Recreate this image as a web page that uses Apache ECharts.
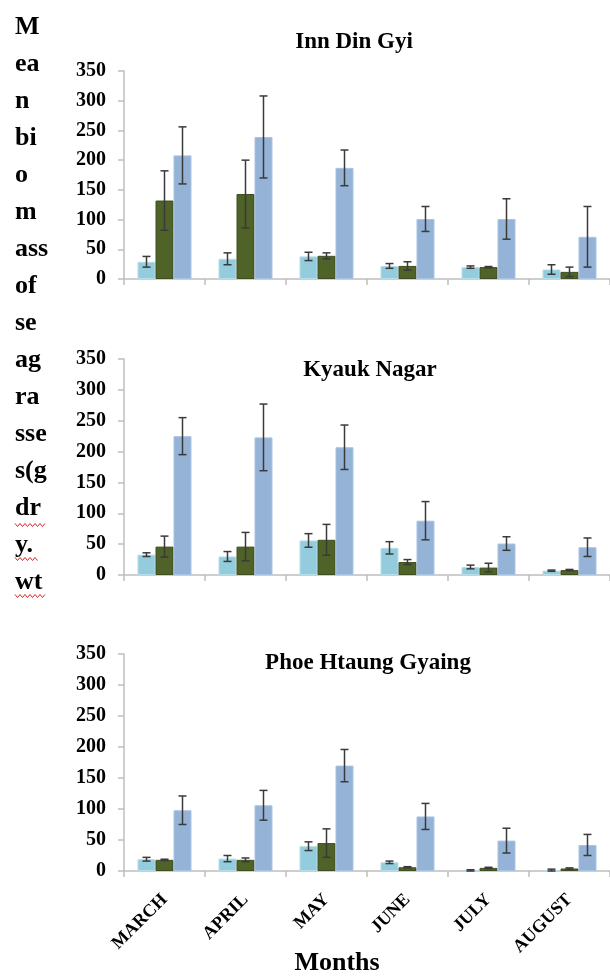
<!DOCTYPE html>
<html>
<head>
<meta charset="utf-8">
<script src="https://cdn.jsdelivr.net/npm/echarts@6/dist/echarts.min.js"></script>
<style>
html,body{margin:0;padding:0;background:#fff;}
#chart{width:610px;height:977px;}
</style>
</head>
<body>
<div id="chart"></div>
<script>
// ---- data ----
const months = ['MARCH', 'APRIL', 'MAY', 'JUNE', 'JULY', 'AUGUST'];
const yTickLabels = ['0', '50', '100', '150', '200', '250', '300', '350'];
const siteTitles = ['Inn Din Gyi', 'Kyauk Nagar', 'Phoe Htaung Gyaing'];
const yLabelLines = ['M', 'ea', 'n', 'bi', 'o', 'm', 'ass', 'of', 'se', 'ag', 'ra', 'sse', 's(g', 'dr', 'y.', 'wt'];

// Inn Din Gyi
const innLight = [29, 34, 38, 22, 20, 16];
const innLightErr = [9, 10, 7, 4, 2, 8];
const innGreen = [132, 143, 39, 22, 20, 12];
const innGreenErr = [50, 57, 5, 7, 1, 8];
const innBlue = [208, 239, 187, 101, 101, 71];
const innBlueErr = [48, 69, 30, 21, 34, 51];

// Kyauk Nagar
const kyaLight = [33, 30, 56, 44, 13, 7];
const kyaLightErr = [3, 8, 11, 10, 3, 1];
const kyaGreen = [46, 46, 57, 21, 12, 8];
const kyaGreenErr = [17, 23, 25, 4, 7, 1];
const kyaBlue = [225, 223, 207, 88, 51, 45];
const kyaBlueErr = [30, 54, 36, 31, 11, 15];

// Phoe Htaung Gyaing
const phoLight = [19, 20, 40, 14, 1, 1];
const phoLightErr = [3, 5, 7, 2, 1, 2];
const phoGreen = [18, 18, 45, 6, 5, 4];
const phoGreenErr = [1, 3, 23, 1, 1, 1];
const phoBlue = [98, 106, 170, 88, 49, 42];
const phoBlueErr = [23, 24, 26, 21, 20, 17];

// ---- style ----
const SERIF = '"Liberation Serif", "DejaVu Serif", serif';
const BAR_W = 18;
const COLORS = ['#93CDDD', '#4F6228', '#95B3D7'];
const BORDERS = ['#B6DDE8', '#3F4F20', '#A9C3E2'];
const ERR = '#3a3a3a';
const AXIS = '#BFBFBF';

const sites = [
  { vals: [innLight, innGreen, innBlue], errs: [innLightErr, innGreenErr, innBlueErr] },
  { vals: [kyaLight, kyaGreen, kyaBlue], errs: [kyaLightErr, kyaGreenErr, kyaBlueErr] },
  { vals: [phoLight, phoGreen, phoBlue], errs: [phoLightErr, phoGreenErr, phoBlueErr] }
];

const grids = [
  { left: 124, width: 493, top: 71, height: 208 },
  { left: 124, width: 493, top: 359, height: 216 },
  { left: 124, width: 493, top: 654, height: 217 }
];

const xAxes = grids.map((g, i) => ({
  type: 'category', gridIndex: i, data: months, boundaryGap: true,
  axisLine: { lineStyle: { color: AXIS, width: 1.5 } },
  axisTick: { show: true, length: 6, lineStyle: { color: AXIS, width: 1.5 } },
  axisLabel: i === 2 ? {
    show: true, rotate: 45, margin: 26, interval: 0,
    fontFamily: SERIF, fontWeight: 'bold', fontSize: 18, color: '#000'
  } : { show: false }
}));

const yAxes = grids.map((g, i) => ({
  type: 'value', gridIndex: i, min: 0, max: 350, interval: 50,
  splitLine: { show: false },
  axisLine: { show: true, lineStyle: { color: AXIS, width: 1.5 } },
  axisTick: { show: true, length: 6, lineStyle: { color: AXIS, width: 1.5 } },
  axisLabel: {
    margin: 18, fontFamily: SERIF, fontWeight: 'bold', fontSize: 20, color: '#000',
    formatter: (v) => yTickLabels[Math.round(v / 50)]
  }
}));

const series = [];
sites.forEach((site, gi) => {
  site.vals.forEach((vals, k) => {
    series.push({
      type: 'bar', name: 'S' + (k + 1), xAxisIndex: gi, yAxisIndex: gi,
      data: vals, barWidth: BAR_W, barGap: '0%',
      itemStyle: { color: COLORS[k], borderColor: BORDERS[k], borderWidth: 1 }
    });
  });
  site.vals.forEach((vals, k) => {
    const errs = site.errs[k];
    series.push({
      type: 'custom', xAxisIndex: gi, yAxisIndex: gi, z: 10,
      data: vals.map((v, i) => [i, Math.max(0, v - errs[i]), v + errs[i]]),
      renderItem: (params, api) => {
        const idx = api.value(0);
        const lo = api.coord([idx, api.value(1)]);
        const hi = api.coord([idx, api.value(2)]);
        const x = lo[0] + (k - 1) * BAR_W;
        const st = { stroke: ERR, lineWidth: 1.5 };
        return {
          type: 'group', children: [
            { type: 'line', shape: { x1: x, y1: lo[1], x2: x, y2: hi[1] }, style: st },
            { type: 'line', shape: { x1: x - 4, y1: hi[1], x2: x + 4, y2: hi[1] }, style: st },
            { type: 'line', shape: { x1: x - 4, y1: lo[1], x2: x + 4, y2: lo[1] }, style: st }
          ]
        };
      }
    });
  });
});

// decorative spell-check squiggles
function squiggle(x0, x1, y) {
  const pts = [];
  let up = true;
  for (let x = x0; x <= x1; x += 2.5) { pts.push([x, up ? y - 1.5 : y + 1.5]); up = !up; }
  return { type: 'polyline', shape: { points: pts }, style: { stroke: '#e02020', lineWidth: 1, fill: null } };
}

const titlePos = [[354, 42], [370, 370], [368, 663]];
const graphic = [
  ...siteTitles.map((t, i) => ({
    type: 'text', x: titlePos[i][0], y: titlePos[i][1],
    style: { text: t, fontFamily: SERIF, fontWeight: 'bold', fontSize: 23, fill: '#000', align: 'center', verticalAlign: 'middle' }
  })),
  {
    type: 'text', x: 337, y: 963,
    style: { text: 'Months', fontFamily: SERIF, fontWeight: 'bold', fontSize: 26, fill: '#000', align: 'center', verticalAlign: 'middle' }
  },
  {
    type: 'text', x: 15, y: 8.5,
    style: { text: yLabelLines.join('\n'), fontFamily: SERIF, fontWeight: 'bold', fontSize: 26, lineHeight: 37, fill: '#000', align: 'left', verticalAlign: 'top' }
  },
  squiggle(15, 46, 525),
  squiggle(15, 38, 559),
  squiggle(15, 46, 596)
];

const chart = echarts.init(document.getElementById('chart'), null, { renderer: 'canvas' });
chart.setOption({
  animation: false,
  backgroundColor: '#fff',
  grid: grids,
  xAxis: xAxes,
  yAxis: yAxes,
  series: series,
  graphic: graphic
});
</script>
</body>
</html>
